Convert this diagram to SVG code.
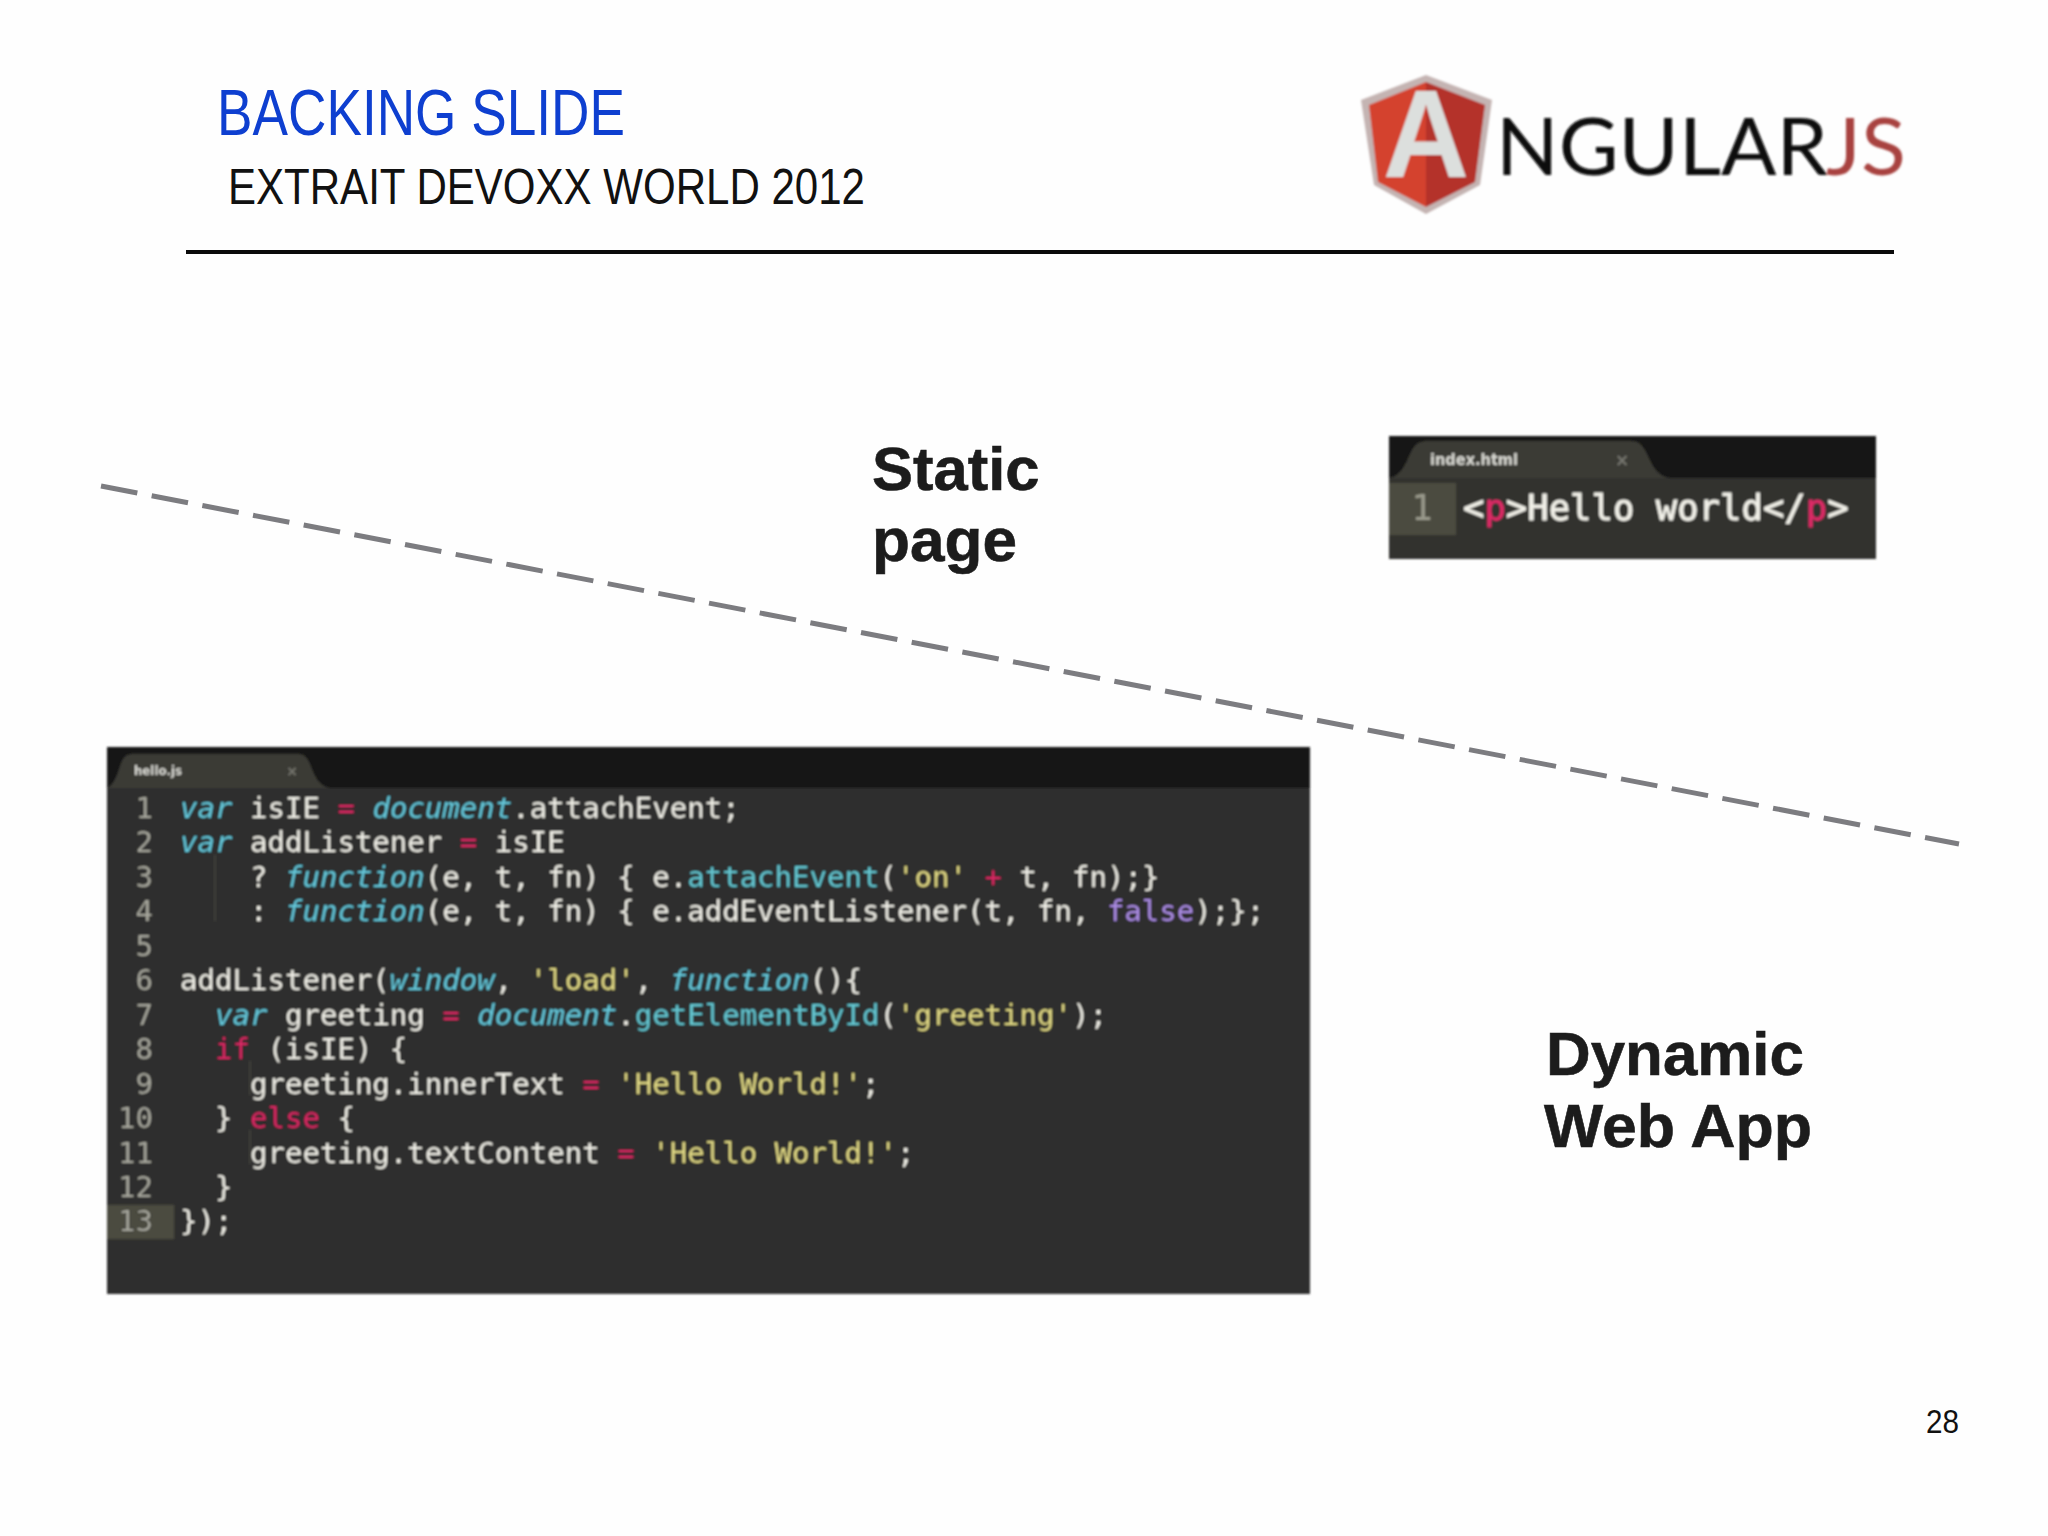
<svg xmlns="http://www.w3.org/2000/svg" width="2048" height="1536" viewBox="0 0 2048 1536">
<style>
.sans{font-family:"Liberation Sans",Arial,sans-serif}
.label{font-family:"Liberation Sans",Arial,sans-serif;font-weight:700;font-size:61.5px;fill:#1c1c1c;stroke:#1c1c1c;stroke-width:.6}
.code{font-family:"DejaVu Sans Mono","Liberation Mono",monospace;font-size:29.05px;fill:#f1f0e8;white-space:pre;stroke:currentColor;stroke-width:0}
.heavy text{stroke-width:.7;paint-order:stroke}
.num{text-anchor:end;fill:#a6a69c}
.k{fill:#66c9dc;font-style:italic}
.b{fill:#66c9d4}
.o{fill:#dc2a66}
.s{fill:#e2da86}
.p{fill:#ad8ee6}
.tab{font-family:"DejaVu Sans","Liberation Sans",sans-serif;font-weight:700;fill:#d8d8d2}
.x{font-family:"DejaVu Sans",sans-serif;font-weight:700;fill:#77776f;text-anchor:middle}
.blur{filter:url(#soft)}
</style>
<defs>
<filter id="soft" x="-2%" y="-2%" width="104%" height="104%"><feGaussianBlur stdDeviation="0.8"/></filter>
</defs>
<rect width="2048" height="1536" fill="#fefefe"/>

<g id="header">
<text class="sans" x="217" y="135" font-size="64" fill="#0e3fd0" textLength="408" lengthAdjust="spacingAndGlyphs">BACKING SLIDE</text>
<text class="sans" x="228" y="204" font-size="50" fill="#111" textLength="637" lengthAdjust="spacingAndGlyphs">EXTRAIT DEVOXX WORLD 2012</text>
<rect x="186" y="250" width="1708" height="4" fill="#0a0a0a"/>
</g>

<g id="logo" class="blur">
<polygon points="1426,75 1492,100 1480,185 1426,214 1374,185 1361,100" fill="#c4b4b2"/>
<polygon points="1426,82 1369,105 1378,182 1426,207" fill="#d4422f"/>
<polygon points="1426,82 1485,105 1475,182 1426,207" fill="#b4302a"/>
<text class="sans" x="1383" y="177" font-size="124" font-weight="700" fill="#dcdfdd" textLength="86" lengthAdjust="spacingAndGlyphs">A</text>
<text x="1496" y="175" font-family="Lato,'Open Sans',sans-serif" font-size="79" fill="#0b0b0b" textLength="332" lengthAdjust="spacingAndGlyphs">NGULAR</text>
<text x="1826" y="175" font-family="Lato,'Open Sans',sans-serif" font-size="79" fill="#a8423f" textLength="80" lengthAdjust="spacingAndGlyphs">JS</text>
</g>

<g id="connectors">
<line x1="101" y1="486" x2="1959" y2="844" stroke="#7c7c80" stroke-width="5" stroke-dasharray="37 14.6"/>
</g>

<g id="static-page">
<text class="label" x="872" y="490">Static</text>
<text class="label" x="872" y="561" textLength="145" lengthAdjust="spacingAndGlyphs">page</text>
</g>

<g id="dynamic-web-app">
<text class="label" x="1546" y="1075" textLength="258" lengthAdjust="spacingAndGlyphs">Dynamic</text>
<text class="label" x="1544" y="1147" textLength="268" lengthAdjust="spacingAndGlyphs">Web App</text>
</g>

<g id="index-html" class="blur">
<rect x="1389" y="436" width="487" height="123" fill="#31312e"/>
<rect x="1389" y="436" width="487" height="42" fill="#171714"/>
<path d="M1389,478 C1402,476 1406,462 1412,450 C1416,443 1420,441 1428,441 H1630 C1638,441 1642,444 1646,452 C1652,464 1656,476 1670,478 Z" fill="#3a3a34"/>
<rect x="1389" y="483" width="67" height="52" fill="#4c4c40"/>
<text class="tab" x="1430" y="465" font-size="15.5" textLength="88" lengthAdjust="spacingAndGlyphs">index.html</text>
<text class="x" x="1622" y="466" font-size="17">×</text>
<text x="1422" y="520" font-family="'DejaVu Sans Mono',monospace" font-size="35.5" text-anchor="middle" fill="#9a9a8c">1</text>
<text class="code" x="1463" y="520" style="font-size:35.6px;stroke:#f1f0e8;stroke-width:.8">&lt;<tspan class="o" style="stroke:#dc2a66">p</tspan>&gt;Hello world&lt;/<tspan class="o" style="stroke:#dc2a66">p</tspan>&gt;</text>
</g>

<g id="hello-js" class="blur">
<rect x="107" y="747" width="1203" height="547" fill="#2f2f2d"/>
<rect x="107" y="747" width="1203" height="41" fill="#171715"/>
<path d="M107,788 C116,784 118,770 122,761 C125,755 128,754 134,754 H298 C304,754 307,757 310,764 C314,774 318,786 330,788 Z" fill="#3a3a35"/>
<rect x="107" y="1205" width="67" height="34" fill="#4b4b40"/>
<text class="tab" x="134" y="775" font-size="12.5" textLength="48" lengthAdjust="spacingAndGlyphs">hello.js</text>
<text class="x" x="292" y="776" font-size="14">×</text>
<path d="M215,855 V921 M250,1061 V1095 M250,1130 V1164" stroke="#41413c" stroke-width="1.5" fill="none"/>
<g class="heavy">
<text class="code num" x="153" y="818">1</text>
<text class="code num" x="153" y="852.4">2</text>
<text class="code num" x="153" y="886.9">3</text>
<text class="code num" x="153" y="921.3">4</text>
<text class="code num" x="153" y="955.8">5</text>
<text class="code num" x="153" y="990.2">6</text>
<text class="code num" x="153" y="1024.7">7</text>
<text class="code num" x="153" y="1059.1">8</text>
<text class="code num" x="153" y="1093.6">9</text>
<text class="code num" x="153" y="1128">10</text>
<text class="code num" x="153" y="1162.5">11</text>
<text class="code num" x="153" y="1196.9">12</text>
<text class="code num" x="153" y="1231.4">13</text>
<text class="code" x="180" y="818"><tspan class="k">var</tspan> isIE <tspan class="o">=</tspan> <tspan class="k">document</tspan>.attachEvent;</text>
<text class="code" x="180" y="852.4"><tspan class="k">var</tspan> addListener <tspan class="o">=</tspan> isIE</text>
<text class="code" x="180" y="886.9">    ? <tspan class="k">function</tspan>(e, t, fn) { e.<tspan class="b">attachEvent</tspan>(<tspan class="s">'on'</tspan> <tspan class="o">+</tspan> t, fn);}</text>
<text class="code" x="180" y="921.3">    : <tspan class="k">function</tspan>(e, t, fn) { e.addEventListener(t, fn, <tspan class="p">false</tspan>);};</text>
<text class="code" x="180" y="990.2">addListener(<tspan class="k">window</tspan>, <tspan class="s">'load'</tspan>, <tspan class="k">function</tspan>(){</text>
<text class="code" x="180" y="1024.7">  <tspan class="k">var</tspan> greeting <tspan class="o">=</tspan> <tspan class="k">document</tspan>.<tspan class="b">getElementById</tspan>(<tspan class="s">'greeting'</tspan>);</text>
<text class="code" x="180" y="1059.1">  <tspan class="o">if</tspan> (isIE) {</text>
<text class="code" x="180" y="1093.6">    greeting.innerText <tspan class="o">=</tspan> <tspan class="s">'Hello World!'</tspan>;</text>
<text class="code" x="180" y="1128">  } <tspan class="o">else</tspan> {</text>
<text class="code" x="180" y="1162.5">    greeting.textContent <tspan class="o">=</tspan> <tspan class="s">'Hello World!'</tspan>;</text>
<text class="code" x="180" y="1196.9">  }</text>
<text class="code" x="180" y="1231.4">});</text>
</g>
</g>

<g id="page-number">
<text class="sans" x="1926" y="1433" font-size="34" fill="#111" textLength="33" lengthAdjust="spacingAndGlyphs">28</text>
</g>
</svg>
